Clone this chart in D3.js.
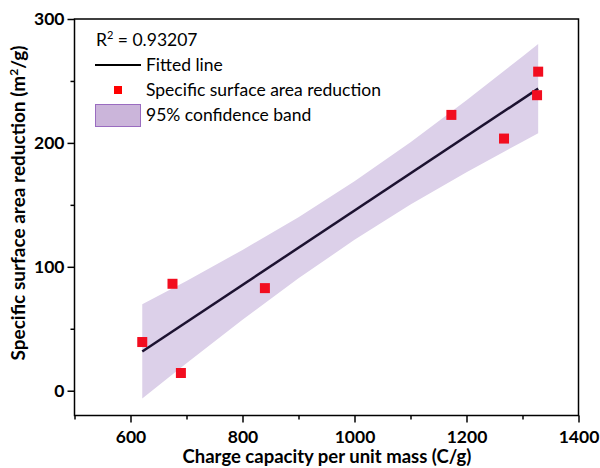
<!DOCTYPE html>
<html>
<head>
<meta charset="utf-8">
<script src="https://cdn.jsdelivr.net/npm/d3@7"></script>
<style>
  body { margin: 0; background: #fff; }
  text { font-family: Lato, "Open Sans", sans-serif; }
</style>
</head>
<body>
<script>
// measured points
var capacity = [621, 675, 690, 840, 1173, 1267, 1328, 1326];
var reduction = [39.3, 86.3, 14.3, 82.8, 222.6, 203.5, 257.5, 238.5];

// fitted line end points
var fitX = [621, 1328];
var fitY = [31.7, 243.8];

// confidence band
var bandX = [621, 700, 800, 900, 1000, 1100, 1200, 1300, 1328];
var bandLow = [-6.3, 22.2, 57.2, 90.7, 121.8, 150.2, 176.3, 201.0, 207.8];
var bandHigh = [69.7, 88.6, 113.6, 140.1, 169.0, 200.6, 234.5, 269.8, 279.8];

var xTicks = [600, 800, 1000, 1200, 1400];
var yTicks = [0, 100, 200, 300];
var r2 = "0.93207";

var width = 600, height = 468;
var margin = {top: 19, right: 21.5, bottom: 53, left: 74.5};

var svg = d3.select("body").append("svg")
    .attr("width", width)
    .attr("height", height);

var x = d3.scaleLinear().domain([500, 1400]).range([margin.left, width - margin.right]);
var y = d3.scaleLinear().domain([-20, 300]).range([height - margin.bottom + 0.5, margin.top]);

// band
var band = bandX.map(function(d, i) { return {x: d, lo: bandLow[i], hi: bandHigh[i]}; });
var area = d3.area()
    .x(function(d) { return x(d.x); })
    .y0(function(d) { return y(d.lo); })
    .y1(function(d) { return y(d.hi); });

svg.append("path")
    .datum(band)
    .attr("d", area)
    .style("fill", "#dcd0e9");

// fitted line
svg.append("line")
    .attr("x1", x(fitX[0])).attr("y1", y(fitY[0]))
    .attr("x2", x(fitX[1])).attr("y2", y(fitY[1]))
    .style("stroke", "#1c1230")
    .style("stroke-width", 2.5);

// points
var pts = capacity.map(function(d, i) { return [d, reduction[i]]; });
svg.selectAll(".pt")
    .data(pts)
  .enter().append("rect")
    .attr("class", "pt")
    .attr("x", function(d) { return x(d[0]) - 5; })
    .attr("y", function(d) { return y(d[1]) - 5; })
    .attr("width", 10)
    .attr("height", 10)
    .style("fill", "#f20d1f");

// axes
var xAxis = svg.append("g")
    .attr("transform", "translate(0," + y(-20) + ")")
    .call(d3.axisBottom(x).tickValues(xTicks).tickSize(7).tickFormat(d3.format("d")));
var xMinor = svg.append("g")
    .attr("transform", "translate(0," + y(-20) + ")")
    .call(d3.axisBottom(x).tickValues([500, 700, 900, 1100, 1300]).tickSize(4).tickFormat(""));

var yAxis = svg.append("g")
    .attr("transform", "translate(" + x(500) + ",0)")
    .call(d3.axisLeft(y).tickValues(yTicks).tickSize(7).tickFormat(d3.format("d")));
var yMinor = svg.append("g")
    .attr("transform", "translate(" + x(500) + ",0)")
    .call(d3.axisLeft(y).tickValues([50, 150, 250]).tickSize(4).tickFormat(""));

[xAxis, xMinor, yAxis, yMinor].forEach(function(g) {
  g.select(".domain").remove();
  g.selectAll("line").style("stroke", "#000").style("stroke-width", 1.5);
  g.selectAll("text")
    .style("font-size", "17.5px")
    .style("font-weight", "bold")
    .style("fill", "#000");
});
xAxis.selectAll("text").attr("y", 27.5).attr("dy", 0);
yAxis.selectAll("text").attr("x", -10);

// frame
svg.append("rect")
    .attr("x", x(500)).attr("y", y(300))
    .attr("width", x(1400) - x(500))
    .attr("height", y(-20) - y(300))
    .style("fill", "none")
    .style("stroke", "#000")
    .style("stroke-width", 1.5);

// axis titles
svg.append("text")
    .attr("x", 327)
    .attr("y", 463)
    .attr("text-anchor", "middle")
    .style("font-size", "18.5px")
    .style("font-weight", "bold")
    .text("Charge capacity per unit mass (C/g)");

var yl = svg.append("text")
    .attr("transform", "translate(25,203) rotate(-90)")
    .attr("text-anchor", "middle")
    .style("font-size", "19px")
    .style("font-weight", "bold");
yl.append("tspan").text("Specific surface area reduction (m");
yl.append("tspan").attr("dy", -7).style("font-size", "12px").text("2");
yl.append("tspan").attr("dy", 7).text("/g)");

// legend
var lg = svg.append("g");
var r = lg.append("text").attr("x", 96).attr("y", 46).style("font-size", "17.5px");
r.append("tspan").text("R");
r.append("tspan").attr("dy", -7).style("font-size", "11px").text("2");
r.append("tspan").attr("dy", 7).text(" = " + r2);

lg.append("line")
    .attr("x1", 95).attr("x2", 141).attr("y1", 65).attr("y2", 65)
    .style("stroke", "#000").style("stroke-width", 2);
lg.append("text").attr("x", 146).attr("y", 71).style("font-size", "17.5px").text("Fitted line");

lg.append("rect")
    .attr("x", 114).attr("y", 86).attr("width", 8).attr("height", 8)
    .style("fill", "#ff0000");
lg.append("text").attr("x", 146).attr("y", 96).style("font-size", "17.5px").text("Specific surface area reduction");

lg.append("rect")
    .attr("x", 95.5).attr("y", 104.5).attr("width", 45).attr("height", 22)
    .style("fill", "#cbb5da").style("stroke", "#9a6cc0").style("stroke-width", 1);
lg.append("text").attr("x", 146).attr("y", 121).style("font-size", "17.5px").text("95% confidence band");
</script>
</body>
</html>
